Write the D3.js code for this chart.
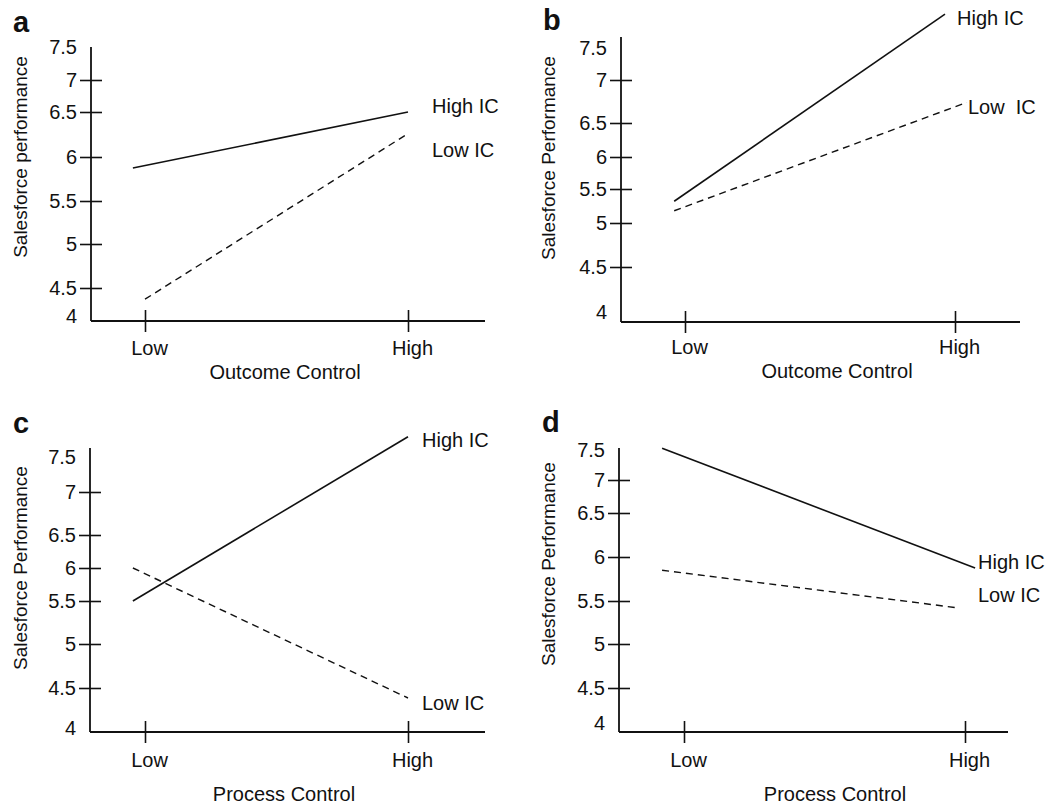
<!DOCTYPE html>
<html>
<head>
<meta charset="utf-8">
<script src="https://cdn.jsdelivr.net/npm/d3@7"></script>
<style>
  html, body { margin: 0; padding: 0; background: #fff; }
  svg { display: block; }
  text { font-family: "Liberation Sans", Arial, Helvetica, sans-serif; fill: #111; white-space: pre; }
</style>
</head>
<body>
<svg id="chart" width="1051" height="806"></svg>
<script>
// ---------------- DATA ----------------
const categories = ["Low", "High"];
const yTickValues = [4, 4.5, 5, 5.5, 6, 6.5, 7, 7.5];
const panelLetters = ["a", "b", "c", "d"];
const xTitles = ["Outcome Control", "Outcome Control", "Process Control", "Process Control"];
const yTitles = ["Salesforce performance", "Salesforce Performance", "Salesforce Performance", "Salesforce Performance"];
const highLabels = ["High IC", "High IC", "High IC", "High IC"];
const lowLabels = ["Low IC", "Low  IC", "Low IC", "Low IC"];

// x positions in category units (Low = 0, High = 1), y values in performance units
const aHighX = [-0.046, 1],    aHighY = [5.875, 6.5];
const aLowX  = [0, 1],         aLowY  = [4.30, 6.26];
const bHighX = [-0.04, 0.963], bHighY = [5.32, 8.03];
const bLowX  = [-0.04, 1.044], bLowY  = [5.18, 6.74];
const cHighX = [-0.046, 1],    cHighY = [5.5, 7.79];
const cLowX  = [-0.046, 1],    cLowY  = [6.0, 4.375];
const dHighX = [-0.078, 1.036], dHighY = [7.53, 5.875];
const dLowX  = [-0.078, 0.975], dLowY  = [5.85, 5.42];

// ---------------- LAYOUT (positions, not data) ----------------
const layout = [
  { axisX: 91,  top: 47,  bottom: 321, xLow: 145, xHigh: 408, xEnd: 485,
    tickPx: [316, 288, 244, 201, 157, 112, 80, 47],
    letter: [13, 22], yTitle: [20, 157], xTitle: [285, 372], catDy: 27,
    hiLab: [432, 106], loLab: [432, 150] },
  { axisX: 621, top: 37,  bottom: 322, xLow: 685, xHigh: 955, xEnd: 1020,
    tickPx: [312, 267, 223, 189, 157, 123, 80, 48],
    letter: [543, 20], yTitle: [548, 158], xTitle: [837, 371], catDy: 25,
    hiLab: [957, 18], loLab: [968, 107] },
  { axisX: 90,  top: 448, bottom: 732, xLow: 145, xHigh: 408, xEnd: 485,
    tickPx: [728, 688, 644, 601, 568, 535, 492, 457],
    letter: [13, 423], yTitle: [20, 568], xTitle: [284, 794], catDy: 28,
    hiLab: [422, 440], loLab: [422, 703] },
  { axisX: 619, top: 448, bottom: 732, xLow: 684, xHigh: 965, xEnd: 1008,
    tickPx: [723, 688, 644, 601, 557, 513, 480, 450],
    letter: [542, 422], yTitle: [548, 564], xTitle: [835, 794], catDy: 28,
    hiLab: [978, 562], loLab: [978, 595] }
];

const seriesByPanel = [
  { high: [aHighX, aHighY], low: [aLowX, aLowY] },
  { high: [bHighX, bHighY], low: [bLowX, bLowY] },
  { high: [cHighX, cHighY], low: [cLowX, cLowY] },
  { high: [dHighX, dHighY], low: [dLowX, dLowY] }
];

const INK = "#111";
const svg = d3.select("#chart");

layout.forEach((L, i) => {
  const g = svg.append("g");
  const y = d3.scaleLinear().domain(yTickValues).range(L.tickPx);
  const x = d3.scaleLinear().domain([0, 1]).range([L.xLow, L.xHigh]);

  // Y axis
  const yAxis = d3.axisLeft(y).tickValues(yTickValues).tickFormat(d3.format("")).tickSizeInner(11).tickSizeOuter(0).tickPadding(3);
  const ya = g.append("g").attr("transform", `translate(${L.axisX},0)`).call(yAxis);
  ya.select(".domain").remove();
  ya.selectAll(".tick line")
    .attr("x1", 11).attr("stroke", INK).attr("stroke-width", 1.6)
    .attr("display", d => (d === 4 || d === 7.5) ? "none" : null);
  ya.selectAll(".tick text").attr("font-size", 20).attr("fill", INK)
    .attr("font-family", "Liberation Sans, Arial, sans-serif");
  g.append("line").attr("x1", L.axisX).attr("x2", L.axisX).attr("y1", L.top).attr("y2", L.bottom)
    .attr("stroke", INK).attr("stroke-width", 1.8);

  // X axis
  const xAxis = d3.axisBottom(x).tickValues([0, 1]).tickFormat((d) => categories[d]).tickSizeInner(11).tickSizeOuter(0);
  const xa = g.append("g").attr("transform", `translate(0,${L.bottom})`).call(xAxis);
  xa.select(".domain").remove();
  xa.selectAll(".tick line").attr("y1", -11).attr("stroke", INK).attr("stroke-width", 1.6);
  xa.selectAll(".tick text").attr("font-size", 20).attr("fill", INK)
    .attr("font-family", "Liberation Sans, Arial, sans-serif")
    .attr("x", 4).attr("y", L.catDy).attr("dy", "0.35em");
  g.append("line").attr("x1", L.axisX).attr("x2", L.xEnd).attr("y1", L.bottom).attr("y2", L.bottom)
    .attr("stroke", INK).attr("stroke-width", 1.8);

  // Lines
  const line = d3.line().x(d => x(d[0])).y(d => y(d[1]));
  const S = seriesByPanel[i];
  const hi = d3.zip(S.high[0], S.high[1]);
  const lo = d3.zip(S.low[0], S.low[1]);
  g.append("path").attr("d", line(hi)).attr("fill", "none").attr("stroke", INK).attr("stroke-width", 1.6);
  g.append("path").attr("d", line(lo)).attr("fill", "none").attr("stroke", INK).attr("stroke-width", 1.4)
    .attr("stroke-dasharray", "7,5");

  // Series labels
  g.append("text").attr("x", L.hiLab[0]).attr("y", L.hiLab[1]).attr("dy", "0.35em")
    .attr("font-size", 20).text(highLabels[i]);
  g.append("text").attr("x", L.loLab[0]).attr("y", L.loLab[1]).attr("dy", "0.35em")
    .attr("font-size", 20).text(lowLabels[i]);

  // Panel letter
  g.append("text").attr("x", L.letter[0]).attr("y", L.letter[1]).attr("dy", "0.35em")
    .attr("font-size", 29).attr("font-weight", "bold").text(panelLetters[i]);

  // Axis titles
  g.append("text").attr("text-anchor", "middle")
    .attr("transform", `translate(${L.yTitle[0]},${L.yTitle[1]}) rotate(-90)`)
    .attr("dy", "0.35em").attr("font-size", 19).text(yTitles[i]);
  g.append("text").attr("text-anchor", "middle").attr("x", L.xTitle[0]).attr("y", L.xTitle[1])
    .attr("dy", "0.35em").attr("font-size", 20).text(xTitles[i]);
});
</script>
</body>
</html>
